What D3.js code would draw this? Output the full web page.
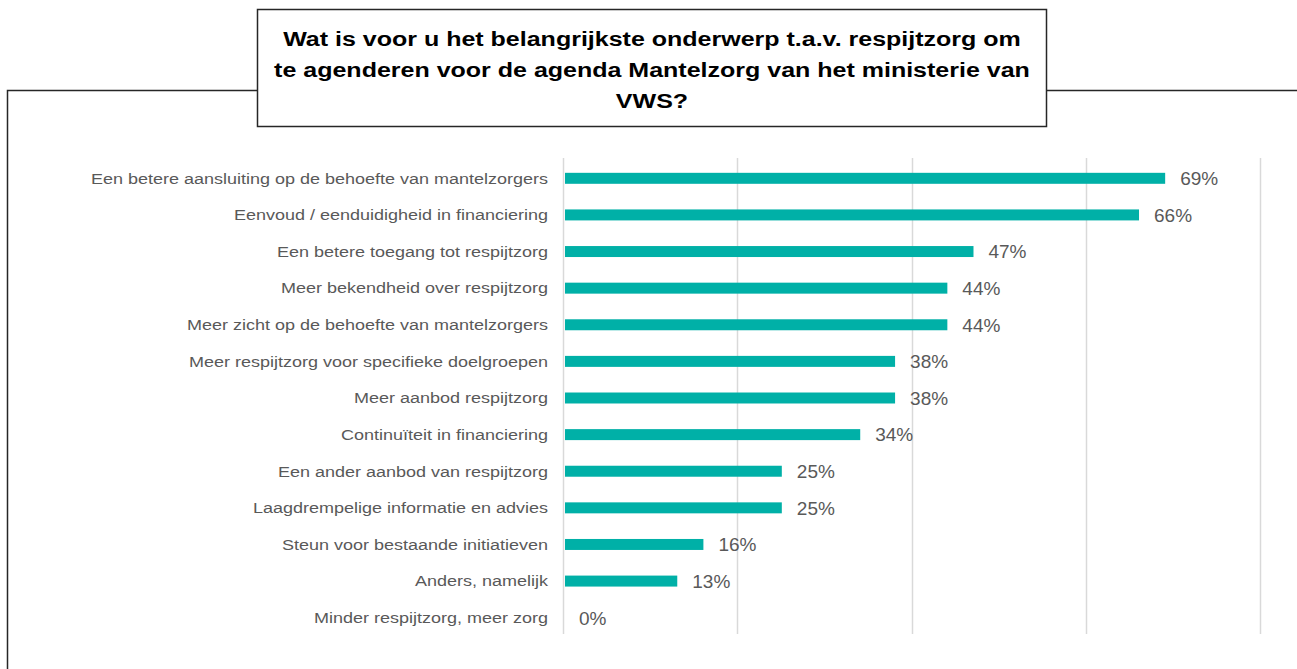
<!DOCTYPE html>
<html>
<head>
<meta charset="utf-8">
<script src="https://cdn.jsdelivr.net/npm/d3@7"></script>
<style>
    body { margin: 0; background: #fff; }
    svg { display: block; font-family: "Liberation Sans", Arial, sans-serif; }
</style>
</head>
<body>
<script>
// chart data
var categories = [
    "Een betere aansluiting op de behoefte van mantelzorgers",
    "Eenvoud / eenduidigheid in financiering",
    "Een betere toegang tot respijtzorg",
    "Meer bekendheid over respijtzorg",
    "Meer zicht op de behoefte van mantelzorgers",
    "Meer respijtzorg voor specifieke doelgroepen",
    "Meer aanbod respijtzorg",
    "Continuïteit in financiering",
    "Een ander aanbod van respijtzorg",
    "Laagdrempelige informatie en advies",
    "Steun voor bestaande initiatieven",
    "Anders, namelijk",
    "Minder respijtzorg, meer zorg"
];
var values = [69, 66, 47, 44, 44, 38, 38, 34, 25, 25, 16, 13, 0];
var gridTicks = [0, 20, 40, 60, 80];
var titleLines = [
    "Wat is voor u het belangrijkste onderwerp t.a.v. respijtzorg om",
    "te agenderen voor de agenda Mantelzorg van het ministerie van",
    "VWS?"
];

var width = 1297, height = 669;
var svg = d3.select("body").append("svg")
    .attr("width", width)
    .attr("height", height);

// stretch text horizontally by a factor (the source renders wide)
function stretch(sel, factor) {
    sel.each(function () {
        var w = this.getComputedTextLength();
        d3.select(this)
            .attr("textLength", w * factor)
            .attr("lengthAdjust", "spacingAndGlyphs");
    });
}

// outer frame (only top + left visible)
svg.append("path")
    .attr("d", "M7.5," + height + " V90.5 H" + width)
    .attr("fill", "none")
    .attr("stroke", "#262626")
    .attr("stroke-width", 1.5);

// title box
svg.append("rect")
    .attr("x", 257.5).attr("y", 9.5)
    .attr("width", 789).attr("height", 117)
    .attr("fill", "#fff")
    .attr("stroke", "#262626")
    .attr("stroke-width", 1.5);

var title = svg.append("g").selectAll("text")
    .data(titleLines)
    .enter().append("text")
    .attr("x", 652)
    .attr("y", function (d, i) { return 46 + i * 31; })
    .attr("text-anchor", "middle")
    .style("font-size", "20px")
    .style("font-weight", "bold")
    .attr("fill", "#000")
    .text(function (d) { return d; });
stretch(title, 1.25);

var x = d3.scaleLinear().domain([0, 80]).range([564, 1261]);
var y = d3.scaleBand().domain(categories).range([160, 636]).paddingInner(0.7).paddingOuter(0.35);

// gridlines
svg.append("g").selectAll("line")
    .data(gridTicks)
    .enter().append("line")
    .attr("x1", function (d) { return Math.round(x(d)) - 0.5; })
    .attr("x2", function (d) { return Math.round(x(d)) - 0.5; })
    .attr("y1", 158).attr("y2", 634)
    .attr("stroke", "#d9d9d9")
    .attr("stroke-width", 1.5);

// category labels
var yAxis = svg.append("g")
    .attr("transform", "translate(564,0)")
    .call(d3.axisLeft(y).tickSize(0).tickPadding(16));
yAxis.select(".domain").remove();
var labels = yAxis.selectAll("text")
    .attr("fill", "#595959")
    .attr("dy", "0.38em")
    .style("font-family", "'Liberation Sans', Arial, sans-serif")
    .style("font-size", "14px");
stretch(labels, 1.285);

// bars
svg.append("g").selectAll("rect")
    .data(values)
    .enter().append("rect")
    .attr("x", x(0) + 1)
    .attr("y", function (d, i) { return y(categories[i]); })
    .attr("width", function (d) { return Math.max(0, x(d) - x(0) - 1); })
    .attr("height", y.bandwidth())
    .attr("fill", "#00b0a7");

// value labels
svg.append("g").selectAll("text")
    .data(values)
    .enter().append("text")
    .attr("x", function (d) { return x(d) + 15; })
    .attr("y", function (d, i) { return y(categories[i]) + y.bandwidth() / 2; })
    .attr("dy", "0.36em")
    .attr("fill", "#595959")
    .style("font-size", "19px")
    .text(function (d) { return d + "%"; });
</script>
</body>
</html>
